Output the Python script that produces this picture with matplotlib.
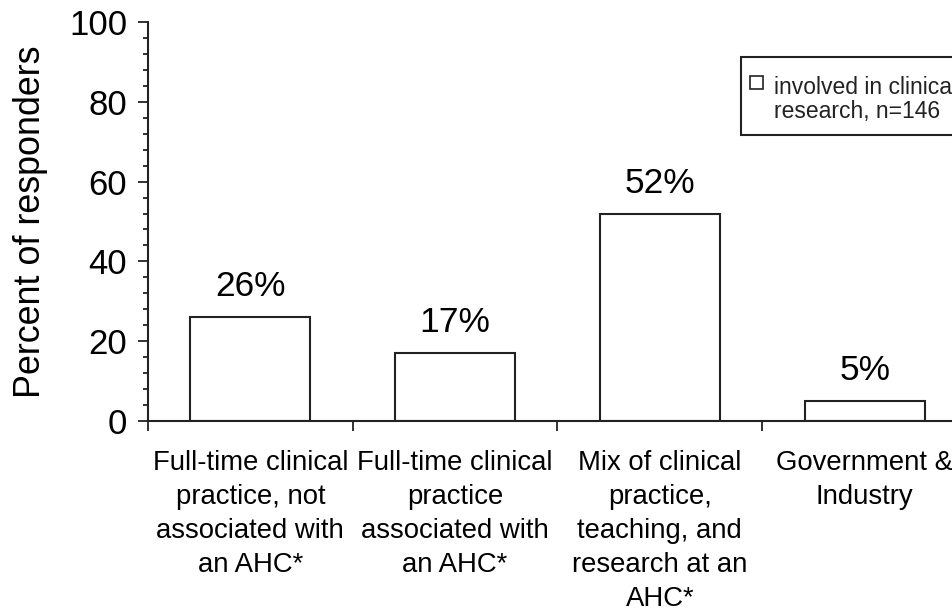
import numpy as np
import matplotlib.pyplot as plt
from matplotlib.patches import Rectangle
from matplotlib.ticker import MultipleLocator, FixedLocator

plt.rcParams['font.family'] = ['Liberation Sans', 'DejaVu Sans']

categories = ['Full-time clinical\npractice, not\nassociated with\nan AHC*',
              'Full-time clinical\npractice\nassociated with\nan AHC*',
              'Mix of clinical\npractice,\nteaching, and\nresearch at an\nAHC*',
              'Government &\nIndustry']
values = [26, 17, 52, 5]
value_labels = ['26%', '17%', '52%', '5%']
legend_label = 'involved in clinical\nresearch, n=146'

W, H = 953, 614
fig = plt.figure(figsize=(W / 100, H / 100), dpi=100)
# axes runs a little past the right edge, like the original crop
ax = fig.add_axes([148 / W, 1 - 421 / H, (967 - 148) / W, (421 - 22) / H])

x = np.arange(len(values))
ax.bar(x, values, width=0.586, color='white', edgecolor='#222222', linewidth=1.5)

for xi, v, lab in zip(x, values, value_labels):
    ax.annotate(lab, (xi, v), xytext=(0, 10), textcoords='offset points',
                ha='center', va='bottom', fontsize=25.5)

ax.set_xlim(-0.5, 3.5)
ax.set_ylim(0, 100)

# y axis
ax.yaxis.set_major_locator(MultipleLocator(20))
ax.yaxis.set_minor_locator(MultipleLocator(4))
ax.tick_params(axis='y', which='major', direction='out', length=7, width=1.3,
               labelsize=25, pad=8, color='#222222')
ax.tick_params(axis='y', which='minor', direction='out', length=3.5, width=1.3,
               color='#222222')
ax.set_ylabel('Percent of responders', fontsize=25.8)
ax.yaxis.set_label_coords(-0.122, 0.5)

# x axis: ticks at category boundaries, labels centred on bars
ax.xaxis.set_major_locator(FixedLocator([-0.5, 0.5, 1.5, 2.5, 3.5]))
ax.xaxis.set_minor_locator(FixedLocator(x))
ax.set_xticklabels([], minor=False)
ax.set_xticklabels(categories, minor=True, fontsize=19.8, linespacing=1.4)
ax.tick_params(axis='x', which='major', direction='out', length=7, width=1.3,
               color='#222222')
ax.tick_params(axis='x', which='minor', length=0, pad=21)

for s in ['top', 'right']:
    ax.spines[s].set_visible(False)
for s in ['left', 'bottom']:
    ax.spines[s].set_linewidth(1.5)
    ax.spines[s].set_color('#222222')
ax.spines['left'].set_bounds(0, 100)

# legend box, cut off by the right edge as in the original
fig.add_artist(Rectangle((741 / W, 1 - 135 / H), 0.3, 78 / H, transform=fig.transFigure,
                         facecolor='white', edgecolor='#222222', linewidth=1.5))
fig.add_artist(Rectangle((750 / W, 1 - 89 / H), 13 / W, 13 / H, transform=fig.transFigure,
                         facecolor='white', edgecolor='#222222', linewidth=1.2))
fig.text(774 / W, 1 - 76 / H, legend_label, fontsize=16.5, linespacing=1.06,
         ha='left', va='top', color='#222222')

fig.savefig('out.png', dpi=100)
